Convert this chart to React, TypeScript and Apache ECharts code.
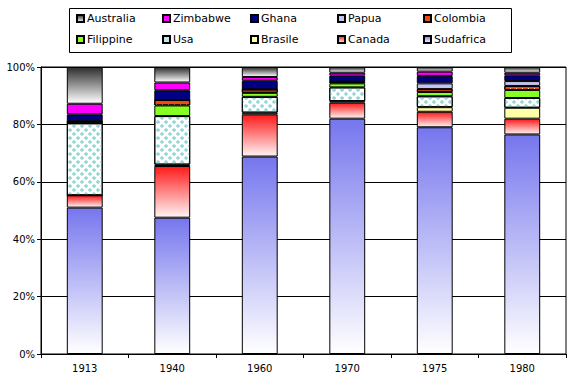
import React, { useEffect, useRef } from "react";
import * as echarts from "echarts";

const years = ["1913", "1940", "1960", "1970", "1975", "1980"];
const sudafrica = [51, 47.5, 68.8, 82, 79, 76.5];
const canada = [4.3, 18, 14.7, 5.6, 5.4, 5.5];
const brasile = [0, 0.5, 0.6, 0.5, 1.6, 3.8];
const usa = [25.1, 16.9, 5.5, 4.8, 3.8, 3.4];
const filippine = [0, 3.7, 1.4, 1.4, 1.5, 2.8];
const colombia = [0.7, 1.9, 1.2, 0.5, 1.0, 1.4];
const papua = [0, 0, 0, 0.1, 2.0, 1.7];
const ghana = [2.4, 3.4, 3.0, 2.1, 2.6, 2.0];
const zimbabwe = [3.7, 2.7, 1.3, 1.0, 1.5, 0.9];
const australia = [12.8, 5.4, 3.5, 2.0, 1.6, 2.0];
const yTicks = [0, 20, 40, 60, 80, 100];

const legendRow1 = ["Australia", "Zimbabwe", "Ghana", "Papua", "Colombia"];
const legendRow2 = ["Filippine", "Usa", "Brasile", "Canada", "Sudafrica"];

const FONT = "DejaVu Sans";

function grad(top: string, bottom: string) {
  return new echarts.graphic.LinearGradient(0, 0, 0, 1, [
    { offset: 0, color: top },
    { offset: 1, color: bottom },
  ]);
}

export default function App() {
  const ref = useRef<HTMLDivElement>(null);
  useEffect(() => {
    if (!ref.current) return;
    const chart = echarts.init(ref.current, null, { renderer: "svg" });
    const border = { borderColor: "#000", borderWidth: 1 };
    const mk = (name: string, data: number[], itemStyle: any) => ({
      name,
      type: "bar",
      stack: "total",
      barWidth: "41%",
      data,
      itemStyle: { ...border, ...itemStyle },
    });
    const series = [
      mk("Sudafrica", sudafrica, { color: grad("#7676ee", "#ffffff") }),
      mk("Canada", canada, { color: grad("#ff1a1a", "#fff4f4") }),
      mk("Brasile", brasile, { color: "#ffffa8" }),
      mk("Usa", usa, {
        color: "#ffffff",
        decal: {
          symbol: "diamond",
          color: "#96d6d6",
          symbolSize: 1.1,
          dashArrayX: [[4, 4], [0, 4, 4, 0]],
          dashArrayY: [4, 0],
        },
      }),
      mk("Filippine", filippine, { color: "#88ff22" }),
      mk("Colombia", colombia, {
        color: "#f24a0e",
        decal: {
          symbol: "rect",
          color: "#ffe0c0",
          symbolSize: 1,
          dashArrayX: [1, 5],
          dashArrayY: [1, 3],
        },
      }),
      mk("Papua", papua, { color: "#c4c4f2" }),
      mk("Ghana", ghana, { color: "#000080" }),
      mk("Zimbabwe", zimbabwe, { color: "#ff00ff" }),
      mk("Australia", australia, { color: grad("#2e2e2e", "#ffffff") }),
    ];
    const colX = [76, 162, 250, 337, 423];
    const legends: any[] = [];
    const addRow = (names: string[], top: number) =>
      names.forEach((n, i) =>
        legends.push({
          left: colX[i],
          top,
          orient: "horizontal",
          icon: "rect",
          itemWidth: 7,
          itemHeight: 7,
          padding: 0,
          data: [n === "Usa" ? { name: n, itemStyle: { color: "#c2e6e6", decal: "none" } } : n],
          textStyle: { fontFamily: FONT, fontSize: 11, color: "#000", padding: [0, 0, 0, -2] },
        })
      );
    addRow(legendRow1, 13);
    addRow(legendRow2, 34);
    chart.setOption({
      animation: false,
      textStyle: { fontFamily: FONT },
      legend: legends,
      graphic: [
        {
          type: "rect",
          shape: { x: 69.5, y: 8.5, width: 442, height: 44 },
          style: { fill: "none", stroke: "#000", lineWidth: 1 },
          silent: true,
        },
      ],
      grid: {
        left: 41,
        right: 13,
        top: 67,
        bottom: 25,
        show: true,
        borderColor: "#000",
        borderWidth: 1,
        containLabel: false,
      },
      xAxis: {
        type: "category",
        data: years,
        boundaryGap: true,
        axisLine: { lineStyle: { color: "#000", width: 1 } },
        axisTick: { show: true, length: 4, lineStyle: { color: "#000" } },
        axisLabel: { fontFamily: FONT, fontSize: 10, color: "#000", margin: 9 },
      },
      yAxis: {
        type: "value",
        min: yTicks[0],
        max: yTicks[yTicks.length - 1],
        interval: yTicks[1] - yTicks[0],
        axisLine: { show: true, lineStyle: { color: "#000", width: 1 } },
        axisTick: { show: true, length: 4, lineStyle: { color: "#000" } },
        axisLabel: { fontFamily: FONT, fontSize: 10, color: "#000", margin: 6, formatter: "{value}%" },
        splitLine: { show: true, lineStyle: { color: "#000", width: 1 } },
      },
      series,
    });
    return () => chart.dispose();
  }, []);
  return (
    <div
      ref={ref}
      style={{ position: "absolute", left: 0, top: 0, width: 579, height: 379, background: "#fff" }}
    />
  );
}
